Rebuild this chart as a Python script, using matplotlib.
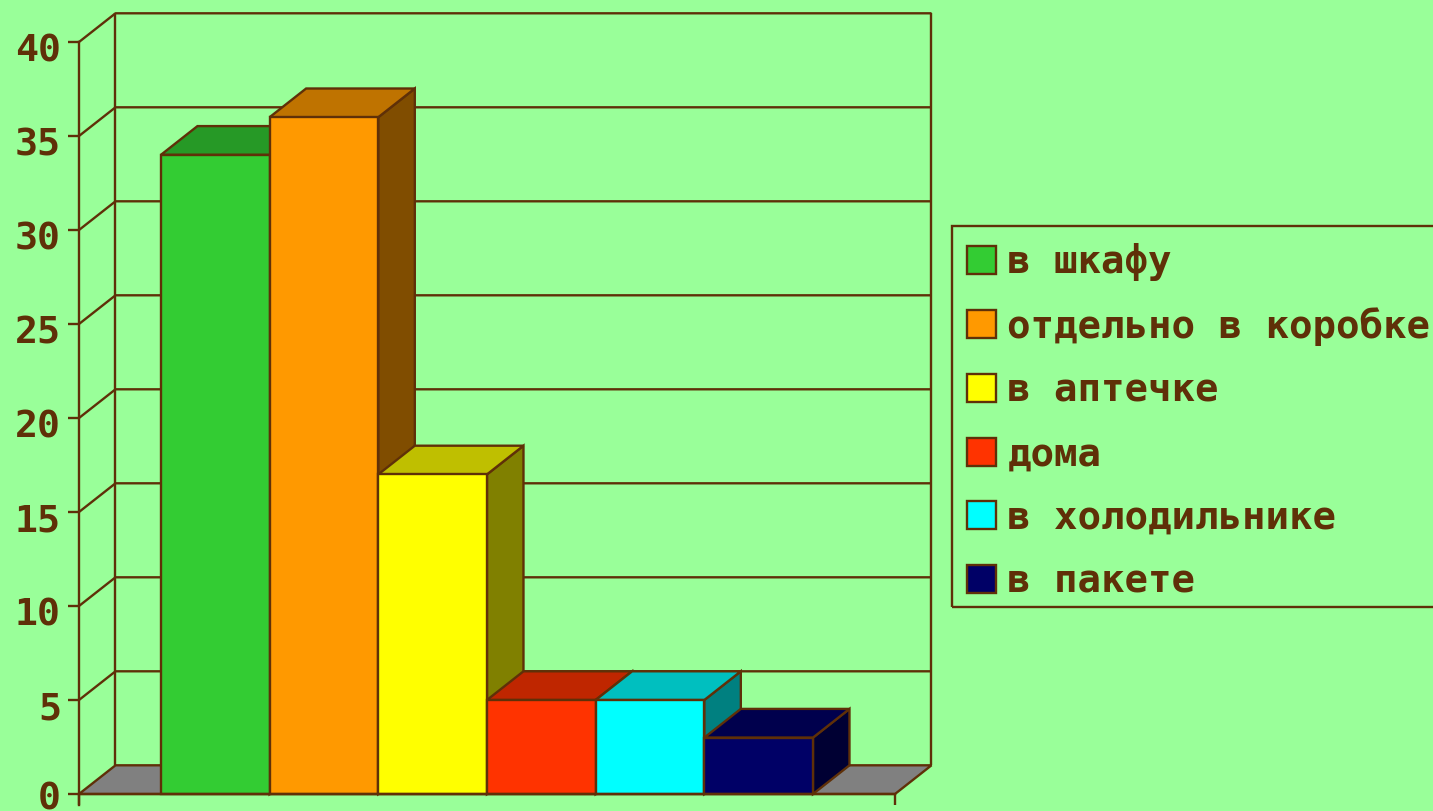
import matplotlib
matplotlib.use("Agg")
import matplotlib.pyplot as plt
from matplotlib.patches import Polygon, Patch, Rectangle
from matplotlib.colors import to_rgb
from matplotlib.transforms import ScaledTranslation

categories = ["в шкафу", "отдельно в коробке", "в аптечке", "дома", "в холодильнике", "в пакете"]
values = [34, 36, 17, 5, 5, 3]
colors = ["#33CC33", "#FF9900", "#FFFF00", "#FF3300", "#00FFFF", "#000066"]
y_ticks = [0, 5, 10, 15, 20, 25, 30, 35, 40]

BG = "#99FF99"
INK = "#5F3008"
FLOOR = "#808080"
W, H = 1433, 811
LW = 1.7

fig = plt.figure(figsize=(W / 100, H / 100), dpi=100, facecolor=BG)
ax = fig.add_axes([0, 0, 1, 1], facecolor="none")

# pixel scale of the plot
px_x, px_y = 108.67, 18.8
ax.set_xlim(-215.3 / px_x, (W - 215.3) / px_x)
ax.set_ylim((794 - H) / px_y, 794 / px_y)
x_left, x_right = (79 - 215.3) / px_x, (895 - 215.3) / px_x
dx, dy = 36.5 / px_x, 28.7 / px_y
y_max = y_ticks[-1]


def line(xs, ys, z=1.0):
    ax.plot(xs, ys, color=INK, lw=LW, zorder=z, solid_capstyle="butt", clip_on=False)


# floor
ax.add_patch(Polygon([(x_left, 0), (x_left + dx, dy), (x_right + dx, dy), (x_right, 0)],
                     closed=True, facecolor=FLOOR, edgecolor=INK, lw=LW, zorder=1))
# walls and grid
for v in y_ticks[1:]:
    line([x_left, x_left + dx, x_right + dx], [v, v + dy, v + dy])
line([x_left + dx, x_left + dx], [dy, y_max + dy])
line([x_right + dx, x_right + dx], [dy, y_max + dy])

# bars
for i, (v, c) in enumerate(zip(values, colors)):
    z = 3 + i
    l, r = i - 0.5, i + 0.5
    rgb = to_rgb(c)
    side = tuple(k * 0.5 for k in rgb)
    top = tuple(k * 0.75 for k in rgb)
    ax.add_patch(Polygon([(r, 0), (r + dx, dy), (r + dx, v + dy), (r, v)], closed=True,
                         facecolor=side, edgecolor=INK, lw=LW, zorder=z))
    ax.add_patch(Polygon([(l, v), (l + dx, v + dy), (r + dx, v + dy), (r, v)], closed=True,
                         facecolor=top, edgecolor=INK, lw=LW, zorder=z))
    ax.bar(i, v, width=1, color=c, edgecolor=INK, linewidth=LW, zorder=z)

# axes
for s in ("top", "right"):
    ax.spines[s].set_visible(False)
ax.spines["left"].set_position(("data", x_left))
ax.spines["left"].set_bounds(-0.6, y_max)
ax.spines["bottom"].set_position(("data", 0))
ax.spines["bottom"].set_bounds(x_left, x_right)
for s in ("left", "bottom"):
    ax.spines[s].set_color(INK)
    ax.spines[s].set_linewidth(LW)
    ax.spines[s].set_zorder(20)
ax.set_yticks(y_ticks)
ax.set_xticks([x_left, x_right])
ax.set_xticklabels(["", ""])
ax.tick_params(axis="y", length=8, width=LW, color=INK, pad=5, labelcolor=INK)
ax.tick_params(axis="x", length=8, width=LW, color=INK)
for k, t in zip(y_ticks, ax.get_yticklabels()):
    t.set_fontfamily("DejaVu Sans Mono")
    t.set_fontweight("bold")
    t.set_fontsize(27.5)
    shift = 2 if k == 0 else 6
    t.set_transform(t.get_transform() + ScaledTranslation(0, -shift / 100, fig.dpi_scale_trans))

# legend frame (open towards the right edge, as in the reference)
fig.add_artist(Rectangle((952 / W, 1 - 607 / H), (W + 20 - 952) / W, (607 - 226) / H,
                         transform=fig.transFigure, facecolor="none", edgecolor=INK, lw=LW))

# legend
handles = [Patch(facecolor=c, edgecolor=INK, linewidth=LW) for c in colors]
leg = ax.legend(handles, categories, loc="upper left",
                bbox_to_anchor=(953 / W, 1 - 229 / H), bbox_transform=fig.transFigure,
                prop={"family": "DejaVu Sans Mono", "weight": "bold", "size": 28.2},
                labelcolor=INK, frameon=False,
                borderaxespad=0, borderpad=0.37,
                handlelength=0.72, handleheight=0.72, handletextpad=0.3,
                labelspacing=0.655)
leg.set_zorder(30)

fig.savefig("out.png", dpi=100, facecolor=BG)
